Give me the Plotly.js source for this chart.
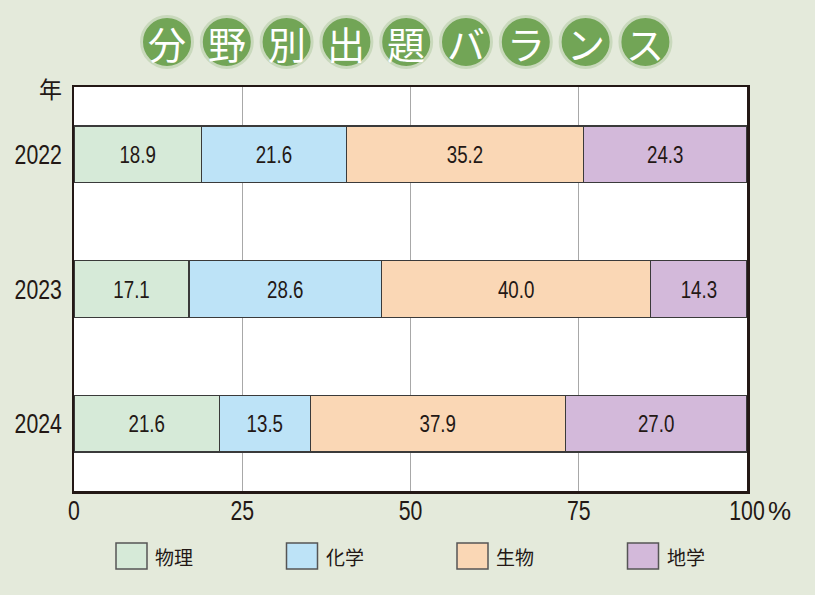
<!DOCTYPE html>
<html><head><meta charset="utf-8">
<script src="https://cdn.plot.ly/plotly-3.0.1.min.js"></script>
<style>html,body{margin:0;padding:0;background:#e4eadb;}</style>
</head><body>
<div id="chart" style="width:815px;height:595px;"></div>
<script>
const years = ['2022', '2023', '2024'];
const subjects = ['物理', '化学', '生物', '地学'];
const physics = [18.9, 17.1, 21.6];
const chemistry = [21.6, 28.6, 13.5];
const biology = [35.2, 40.0, 37.9];
const earth = [24.3, 14.3, 27.0];
const colors = ['#d6ead8', '#bde3f7', '#fad7b5', '#d3b9da'];
const xTicks = [0, 25, 50, 75, 100];
const xTickText = ['0', '25', '50', '75', '100'];
const titleChars = ['分', '野', '別', '出', '題', 'バ', 'ラ', 'ン', 'ス'];

const numFont = 'Liberation Sans, Arial, sans-serif';
const cjkFont = 'Noto Sans CJK JP, sans-serif';
const ink = '#231815';

const series = [physics, chemistry, biology, earth];
const traces = series.map((vals, i) => ({
  type: 'bar', orientation: 'h', name: subjects[i],
  y: years, x: vals,
  text: vals.map(v => v.toFixed(1)),
  textposition: 'inside', insidetextanchor: 'middle',
  textfont: {family: numFont, size: 24, color: ink},
  marker: {color: colors[i], line: {color: '#3a3a3a', width: 1.4}},
  width: 0.42, hoverinfo: 'skip'
}));

// layout geometry (pixels)
const L = 74, R = 747, T = 87, B = 491;
const W = R - L, H = B - T;
const px = x => (x - L) / W;
const py = y => (B - y) / H;

const shapes = [];
const annotations = [];

// title badges
titleChars.forEach((c, i) => {
  const cx = 167 + i * 59.8, cy = 42;
  shapes.push({type: 'circle', xref: 'paper', yref: 'paper',
    xsizemode: 'pixel', ysizemode: 'pixel',
    xanchor: px(cx), yanchor: py(cy), x0: -25.5, x1: 25.5, y0: -25.5, y1: 25.5,
    fillcolor: '#72a556', line: {color: '#c9d9bc', width: 3}, layer: 'above'});
  annotations.push({xref: 'paper', yref: 'paper', x: px(cx), y: py(cy + 1),
    xanchor: 'center', yanchor: 'middle', showarrow: false, text: c,
    font: {family: cjkFont, size: 38, color: '#ffffff'}});
});

// custom legend
subjects.forEach((s, i) => {
  const x0 = 116 + i * 170.5;
  shapes.push({type: 'rect', xref: 'paper', yref: 'paper',
    x0: px(x0), x1: px(x0 + 31), y0: py(569), y1: py(543),
    fillcolor: colors[i], line: {color: '#555555', width: 1.5}, layer: 'above'});
  annotations.push({xref: 'paper', yref: 'paper', x: px(x0 + 37), y: py(556),
    xanchor: 'left', yanchor: 'middle', showarrow: false, text: s,
    font: {family: cjkFont, size: 19, color: ink}});
});

// year unit label and percent sign
annotations.push({xref: 'paper', yref: 'paper', x: px(64), y: py(88),
  xanchor: 'right', yanchor: 'middle', showarrow: false, text: '年',
  font: {family: cjkFont, size: 23, color: ink}});
annotations.push({xref: 'paper', yref: 'paper', x: px(766), y: py(511),
  xanchor: 'left', yanchor: 'middle', showarrow: false, text: '%',
  font: {family: numFont, size: 26, color: ink}});

const layout = {
  width: 815, height: 595,
  margin: {l: L, r: 815 - R, t: T, b: 595 - B, pad: 0},
  paper_bgcolor: '#e4eadb', plot_bgcolor: '#ffffff',
  barmode: 'stack', showlegend: false,
  xaxis: {range: [0, 100], tickvals: xTicks, ticktext: xTickText,
    showgrid: true, gridcolor: '#a8a8a8', gridwidth: 1, zeroline: false,
    showline: true, linecolor: ink, linewidth: 2.5, mirror: true,
    ticks: '', ticklabelstandoff: 0,
    tickfont: {family: numFont, size: 28, color: ink}, fixedrange: true},
  yaxis: {type: 'category', categoryorder: 'array', categoryarray: years,
    range: [2.5, -0.5], showgrid: false, zeroline: false,
    showline: true, linecolor: ink, linewidth: 2.5, mirror: true,
    ticks: '', ticklabelstandoff: 4,
    tickfont: {family: numFont, size: 28, color: ink}, fixedrange: true},
  shapes: shapes, annotations: annotations
};

// condense numeric text horizontally (reference uses a condensed face)
function condense(sel, s, dy) {
  document.querySelectorAll(sel).forEach(t => {
    const x = parseFloat(t.getAttribute('x') || 0);
    const y = parseFloat(t.getAttribute('y') || 0);
    const tr = t.getAttribute('transform') || '';
    t.setAttribute('transform', tr + ` translate(0,${dy || 0}) translate(${x},${y}) scale(${s},1) translate(${-x},${-y})`);
  });
}

Plotly.newPlot('chart', traces, layout, {displayModeBar: false, staticPlot: true}).then(() => {
  condense('.xtick text', 0.76, -7);
  condense('.ytick text', 0.76, 0);
  condense('.bartext', 0.78, 0);
});
</script>
</body></html>
